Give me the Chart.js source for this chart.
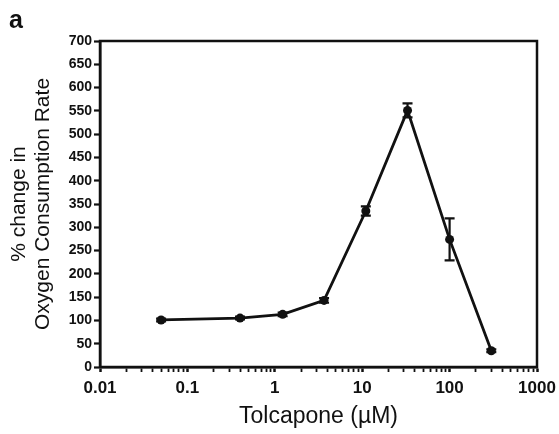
<!DOCTYPE html>
<html>
<head>
<meta charset="utf-8">
<script src="https://cdn.jsdelivr.net/npm/chart.js@4.4.0/dist/chart.umd.min.js"></script>
<style>
  html, body { margin: 0; padding: 0; background: #fff; }
  #wrap { width: 559px; height: 434px; }
</style>
</head>
<body>
<div id="wrap"><canvas id="c" width="559" height="434"></canvas></div>
<script>
// tolcapone concentration (uM) and % change in OCR, with error (SEM)
const conc = [0.05, 0.4, 1.23, 3.66, 11, 33, 100, 300];
const ocr = [101, 105, 113, 143, 335, 551, 274, 35];
const sem = [3, 3, 4, 5, 10, 15, 45, 3];
const yTicksMax = 700;
const yStep = 50;
const xMin = 0.01;
const xMax = 1000;

const isDecade = v => Math.abs(Math.log10(v) - Math.round(Math.log10(v))) < 1e-9;

// error bars, drawn through the chart's scales
const errorBars = {
  id: 'errorBars',
  afterDatasetsDraw(chart) {
    const { ctx, scales: { x, y } } = chart;
    ctx.save();
    ctx.strokeStyle = '#111';
    ctx.lineWidth = 2.2;
    conc.forEach((c, i) => {
      const px = x.getPixelForValue(c);
      const top = y.getPixelForValue(ocr[i] + sem[i]);
      const bot = y.getPixelForValue(ocr[i] - sem[i]);
      ctx.beginPath();
      ctx.moveTo(px, top); ctx.lineTo(px, bot);
      ctx.moveTo(px - 5, top); ctx.lineTo(px + 5, top);
      ctx.moveTo(px - 5, bot); ctx.lineTo(px + 5, bot);
      ctx.stroke();
    });
    ctx.restore();
  }
};

// plot frame and panel letter
const frame = {
  id: 'frame',
  afterDraw(chart) {
    const { ctx, chartArea: a } = chart;
    ctx.save();
    ctx.strokeStyle = '#111';
    ctx.lineWidth = 2.5;
    ctx.strokeRect(a.left, a.top, a.right - a.left, a.bottom - a.top);
    ctx.fillStyle = '#111';
    ctx.font = 'bold 25px "Liberation Sans", Arial, sans-serif';
    ctx.textBaseline = 'alphabetic';
    ctx.fillText('a', 9, 28);
    ctx.restore();
  }
};

new Chart(document.getElementById('c'), {
  type: 'line',
  data: {
    datasets: [{
      data: conc.map((c, i) => ({ x: c, y: ocr[i] })),
      borderColor: '#111',
      backgroundColor: '#111',
      borderWidth: 2.8,
      pointRadius: 4.5,
      pointBackgroundColor: '#111',
      pointBorderWidth: 0,
      tension: 0
    }]
  },
  options: {
    responsive: false,
    animation: false,
    layout: { padding: { left: 0, top: 41, right: 22, bottom: 0 } },
    plugins: { legend: { display: false }, tooltip: { enabled: false } },
    scales: {
      x: {
        type: 'logarithmic',
        min: xMin,
        max: xMax,
        afterBuildTicks(scale) {
          const t = [];
          for (let n = -2; n <= 3; n++) {
            for (let j = 1; j <= 9; j++) {
              const v = j * Math.pow(10, n);
              if (v <= xMax + 1e-9) t.push({ value: v });
            }
          }
          scale.ticks = t;
        },
        afterFit(scale) {
          scale.height = 67;
          scale.paddingRight = 0;
          scale.paddingLeft = 0;
        },
        grid: {
          drawOnChartArea: false,
          tickLength: 5,
          tickColor: '#111',
          tickWidth: ctx => (ctx.tick && isDecade(ctx.tick.value) ? 2.5 : 1.8)
        },
        border: { color: '#111', width: 2.5 },
        ticks: {
          autoSkip: false,
          maxRotation: 0,
          padding: 6,
          color: '#111',
          font: { family: '"Liberation Sans", Arial, sans-serif', size: 17, weight: 'bold' },
          callback: v => (isDecade(v) ? String(v) : '')
        },
        title: {
          display: true,
          text: 'Tolcapone (\u00b5M)',
          color: '#111',
          padding: { top: 2 },
          font: { family: '"Liberation Sans", Arial, sans-serif', size: 23 }
        }
      },
      y: {
        min: 0,
        max: yTicksMax,
        afterFit(scale) { scale.width = 100; },
        grid: { drawOnChartArea: false, tickLength: 6, tickColor: '#111', tickWidth: 2.2 },
        border: { color: '#111', width: 2.5 },
        ticks: {
          stepSize: yStep,
          padding: 2,
          color: '#111',
          font: { family: '"Liberation Sans", Arial, sans-serif', size: 14, weight: 'bold' }
        },
        title: {
          display: true,
          text: ['% change in', 'Oxygen Consumption Rate'],
          color: '#111',
          padding: { top: 7, bottom: 0 },
          font: { family: '"Liberation Sans", Arial, sans-serif', size: 21, lineHeight: 1.15 }
        }
      }
    }
  },
  plugins: [errorBars, frame]
});
</script>
</body>
</html>
